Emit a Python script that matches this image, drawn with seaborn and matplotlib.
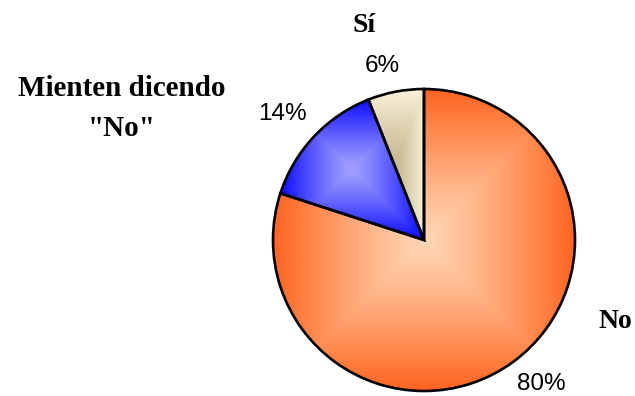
import numpy as np
import matplotlib
matplotlib.use("Agg")
import matplotlib.pyplot as plt
import seaborn as sns

sns.set_theme(style="white")
plt.rcParams['font.family'] = ['Liberation Sans', 'DejaVu Sans']

# Data
categories = ["No", "Mienten dicendo", "Sí"]
category_extra = "\"No\""
values = [80, 14, 6]
pct_labels = ["80%", "14%", "6%"]

# Gradient colours (edge, centre) per slice
edge_cols = [(255, 100, 30), (10, 10, 255), (250, 241, 218)]
centre_cols = [(255, 214, 180), (160, 160, 255), (200, 185, 145)]

W, H = 635, 396
fig = plt.figure(figsize=(W / 100, H / 100), dpi=100)
ax = fig.add_axes([0, 0, 1, 1])

cx, cy, R = 424, H - 240, 151
wedges, _ = ax.pie(values, startangle=90, counterclock=False,
                   center=(cx, cy), radius=R, frame=True,
                   wedgeprops=dict(edgecolor='black', linewidth=1.9, facecolor='none', zorder=3))

n = 200
u = np.linspace(-1, 1, n)
UU, VV = np.meshgrid(u, u)
T = np.maximum(np.abs(UU), np.abs(VV))
for w, ec, cc in zip(wedges, edge_cols, centre_cols):
    ext = w.get_path().get_extents()
    e = np.array(ec) / 255.0
    c = np.array(cc) / 255.0
    img = c[None, None, :] + (e - c)[None, None, :] * T[..., None] ** 1.2
    im = ax.imshow(img, extent=[ext.x0, ext.x1, ext.y0, ext.y1], origin='lower',
                   interpolation='bilinear', zorder=2)
    im.set_clip_path(w)

ax.set_xlim(0, W)
ax.set_ylim(0, H)
ax.set_aspect('equal')
ax.axis('off')

def fx(x):
    return x / W

def fy(y):
    return 1 - y / H

# Percentage labels
pct_pos = [(541, 384), (282, 114), (382, 66)]
for lab, (x, y) in zip(pct_labels, pct_pos):
    fig.text(fx(x), fy(y), lab, ha='center', va='center', fontsize=17.5,
             color='black', family=['Liberation Sans', 'DejaVu Sans'])

# Category labels
serif = ['Liberation Serif', 'DejaVu Serif']
cat_pos = [(615, 322), (122, 88), (364, 25)]
cat_sizes = [20, 21, 20]
for lab, (x, y), fs in zip(categories, cat_pos, cat_sizes):
    fig.text(fx(x), fy(y), lab, ha='center', va='center', fontsize=fs,
             fontweight='bold', color='black', family=serif)
fig.text(fx(122), fy(129), category_extra, ha='center', va='center', fontsize=21,
         fontweight='bold', color='black', family=serif)

fig.savefig("out.png", dpi=100, facecolor='white')
